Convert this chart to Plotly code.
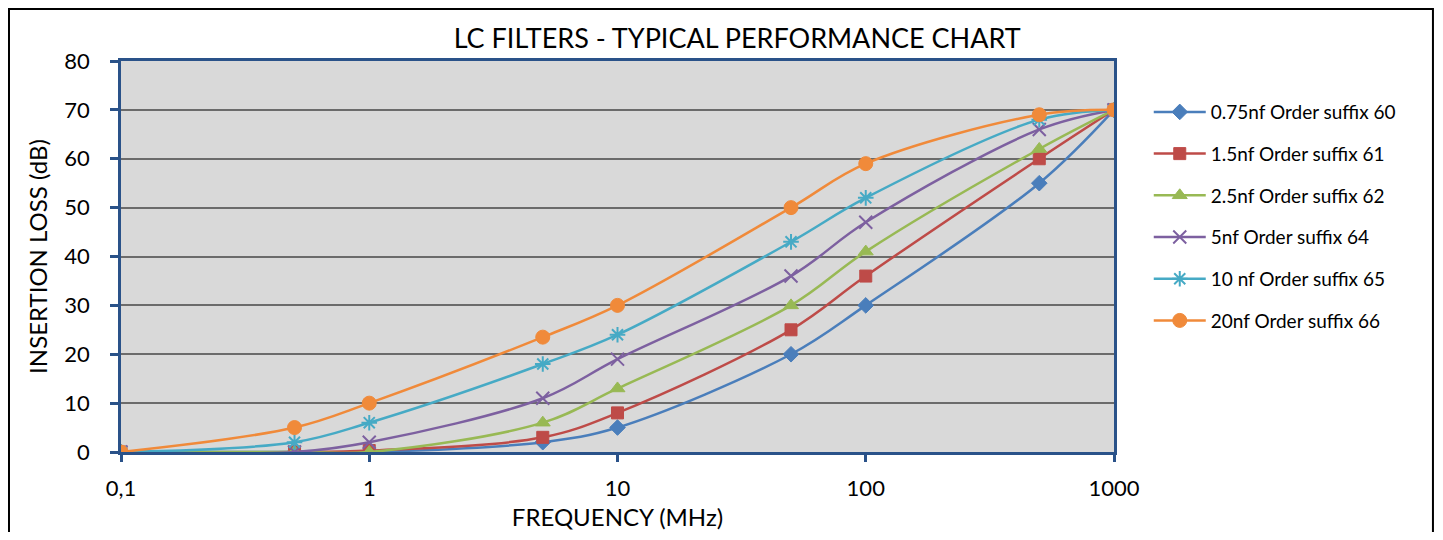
import plotly.graph_objects as go

# frequency points (MHz)
freq = [0.1, 0.5, 1, 5, 10, 50, 100, 500, 1000]

# insertion loss (dB) per filter
loss_060 = [0, 0, 0, 2, 5, 20, 30, 55, 70]
loss_061 = [0, 0, 0.3, 3, 8, 25, 36, 60, 70]
loss_062 = [0, 0, 0, 6, 13, 30, 41, 62, 70]
loss_064 = [0, 0, 2, 11, 19, 36, 47, 66, 70]
loss_065 = [0, 2, 6, 18, 24, 43, 52, 68, 70]
loss_066 = [0, 5, 10, 23.5, 30, 50, 59, 69, 70]

names = [
    "0.75nf Order suffix 60",
    "1.5nf Order suffix 61",
    "2.5nf Order suffix 62",
    "5nf Order suffix 64",
    "10 nf Order suffix 65",
    "20nf Order suffix 66",
]

x_tickvals = [0.1, 1, 10, 100, 1000]
x_ticktext = ["0,1", "1", "10", "100", "1000"]

FONT = "Lato, 'Open Sans', sans-serif"
AXIS_BLUE = "#2A5289"

styles = [
    ("#4A7EBB", "diamond", 12, 1),
    ("#BE4B48", "square", 12, 1),
    ("#98B954", "triangle-up", 13, 1),
    ("#7D60A0", "x-thin-open", 13, 2),
    ("#46AAC5", "asterisk-open", 13, 2),
    ("#F08A3A", "circle", 14, 1),
]

series = [loss_060, loss_061, loss_062, loss_064, loss_065, loss_066]

fig = go.Figure()
for i, (name, ys) in enumerate(zip(names, series)):
    color, symbol, size, lw = styles[i]
    fig.add_trace(go.Scatter(
        x=freq, y=ys, name=name, mode="lines+markers",
        line=dict(color=color, width=2.5, shape="spline", smoothing=1),
        marker=dict(symbol=symbol, size=size, color=color,
                    line=dict(color=color, width=lw)),
        legendgroup=f"g{i}",
    ))

# outer chart frame
fig.add_shape(type="rect", xref="paper", yref="paper",
              x0=-0.1128, x1=1.3212, y0=-0.25, y1=1.133,
              line=dict(color="black", width=2))

# page body adds an 8px margin, so the figure is sized to fit the window
fig.update_layout(
    width=1427, height=524,
    margin=dict(l=113, r=321, t=53, b=80, autoexpand=False),
    paper_bgcolor="white",
    plot_bgcolor="#D9D9D9",
    font=dict(family=FONT, color="black"),
    title=dict(text="LC FILTERS - TYPICAL PERFORMANCE CHART",
               x=0.511, xanchor="center", y=0.942, yanchor="middle",
               font=dict(size=27, family=FONT, color="black")),
    legend=dict(x=1.035, xanchor="left", y=0.918, yanchor="top",
                font=dict(size=19, family=FONT), tracegroupgap=14,
                itemwidth=52, bgcolor="rgba(0,0,0,0)"),
    xaxis=dict(
        type="log", range=[-1, 3], automargin=False,
        tickvals=x_tickvals, ticktext=x_ticktext,
        ticks="outside", ticklen=7, tickwidth=3, tickcolor=AXIS_BLUE,
        showline=True, linecolor=AXIS_BLUE, linewidth=2.5, mirror=True,
        showgrid=False, zeroline=False, ticklabelstandoff=8,
        tickfont=dict(size=22, family=FONT),
        title=dict(text="FREQUENCY (MHz)", font=dict(size=24, family=FONT), standoff=10),
    ),
    yaxis=dict(
        range=[0, 80], dtick=10, automargin=False,
        ticks="outside", ticklen=8, tickwidth=3, tickcolor=AXIS_BLUE,
        showline=True, linecolor=AXIS_BLUE, linewidth=2.5, mirror=True,
        showgrid=True, gridcolor="#6B6B6B", gridwidth=2, zeroline=False,
        ticklabelstandoff=16,
        tickfont=dict(size=22, family=FONT),
        title=dict(text="INSERTION LOSS (dB)", font=dict(size=24, family=FONT), standoff=10),
    ),
)

fig.write_html("out.html")
